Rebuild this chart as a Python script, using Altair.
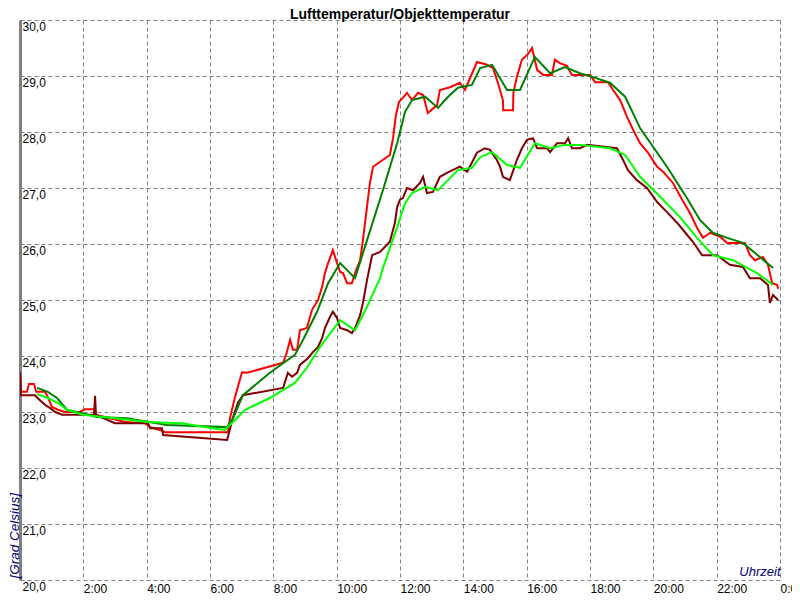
import altair as alt
import pandas as pd

# Time in hours since 0:00, temperature in degrees Celsius
luft_h = [0.00, 0.03, 0.22, 0.28, 0.44, 0.51, 0.79, 0.85, 1.01, 1.20, 1.42, 1.89, 2.05, 2.34, 2.40, 2.84,
          3.32, 3.95, 4.11, 4.42, 4.58, 6.57, 6.63, 6.79, 7.01, 7.17, 8.31, 8.43, 8.53, 8.62, 8.75, 8.84,
          9.06, 9.22, 9.41, 9.54, 9.63, 9.73, 9.88, 10.01, 10.11, 10.20, 10.33, 10.48, 10.58, 10.74, 10.83,
          11.05, 11.15, 11.68, 11.78, 11.87, 11.97, 12.09, 12.22, 12.38, 12.57, 12.73, 12.88, 13.17, 13.26,
          13.58, 13.89, 14.05, 14.21, 14.43, 14.75, 14.94, 15.09, 15.25, 15.26, 15.57, 15.58, 15.69, 15.85,
          16.04, 16.17, 16.33, 16.52, 16.80, 16.89, 17.05, 17.27, 17.43, 18.00, 18.16, 18.57, 18.73, 18.95,
          19.17, 19.36, 19.58, 19.83, 20.12, 20.31, 20.62, 20.91, 21.16, 21.38, 21.57, 21.79, 22.11, 22.33,
          22.89, 23.05, 23.21, 23.46, 23.62, 23.75, 23.91, 23.94]
luft_t = [23.70, 23.36, 23.36, 23.50, 23.50, 23.36, 23.36, 23.30, 23.09, 23.04, 23.00, 23.00, 23.05, 23.05,
          22.95, 22.89, 22.82, 22.80, 22.73, 22.68, 22.64, 22.64, 22.89, 23.27, 23.71, 23.70, 23.88, 24.07,
          24.29, 24.11, 24.11, 24.46, 24.50, 24.82, 25.00, 25.23, 25.48, 25.66, 25.89, 25.66, 25.50, 25.48,
          25.30, 25.30, 25.48, 25.71, 26.07, 27.09, 27.38, 27.59, 27.89, 28.30, 28.54, 28.61, 28.70, 28.57,
          28.70, 28.66, 28.34, 28.48, 28.75, 28.80, 28.88, 28.75, 28.96, 29.25, 29.20, 29.14, 28.88, 28.57,
          28.39, 28.39, 28.70, 28.98, 29.29, 29.39, 29.50, 29.11, 29.02, 29.02, 29.29, 29.23, 29.18, 29.02,
          29.02, 28.89, 28.89, 28.75, 28.57, 28.27, 28.04, 27.80, 27.63, 27.38, 27.29, 27.09, 26.79, 26.55,
          26.29, 26.11, 26.20, 26.13, 26.02, 26.02, 25.80, 25.71, 25.77, 25.63, 25.30, 25.27, 25.20]

objekt_h = [0.00, 0.03, 0.47, 0.63, 0.79, 0.95, 1.11, 1.33, 2.34, 2.37, 2.40, 3.00, 3.32, 4.04, 4.11, 4.48,
            4.52, 6.54, 6.73, 6.88, 7.04, 8.31, 8.46, 8.59, 8.75, 8.84, 9.09, 9.25, 9.41, 9.54, 9.63, 9.79,
            9.88, 10.01, 10.11, 10.33, 10.48, 10.58, 10.74, 10.83, 10.96, 11.12, 11.37, 11.68, 11.84, 11.91,
            12.00, 12.09, 12.22, 12.41, 12.63, 12.73, 12.85, 13.04, 13.26, 13.48, 13.89, 14.12, 14.27, 14.43,
            14.68, 14.84, 15.06, 15.16, 15.25, 15.47, 15.69, 15.85, 16.01, 16.20, 16.33, 16.64, 16.74, 16.96,
            17.21, 17.31, 17.43, 17.68, 17.91, 18.85, 19.01, 19.20, 19.48, 19.80, 20.12, 20.43, 20.75, 20.94,
            21.25, 21.54, 22.01, 22.42, 22.83, 23.05, 23.37, 23.62, 23.68, 23.78, 23.94]
objekt_t = [23.71, 23.30, 23.30, 23.21, 23.13, 23.07, 23.00, 22.95, 22.95, 23.29, 22.95, 22.80, 22.80, 22.80,
            22.71, 22.71, 22.59, 22.50, 22.91, 23.16, 23.30, 23.43, 23.70, 23.63, 23.70, 23.84, 23.96, 24.07,
            24.16, 24.32, 24.50, 24.70, 24.79, 24.68, 24.50, 24.46, 24.41, 24.50, 24.73, 24.95, 25.36, 25.80,
            25.86, 26.04, 26.38, 26.66, 26.79, 26.82, 27.00, 26.96, 27.09, 27.20, 26.91, 26.93, 27.20, 27.27,
            27.38, 27.29, 27.45, 27.63, 27.71, 27.68, 27.50, 27.38, 27.20, 27.14, 27.50, 27.71, 27.86, 27.89,
            27.71, 27.71, 27.64, 27.80, 27.80, 27.89, 27.71, 27.71, 27.77, 27.71, 27.54, 27.32, 27.14, 27.00,
            26.75, 26.57, 26.38, 26.25, 26.04, 25.80, 25.80, 25.63, 25.59, 25.39, 25.39, 25.27, 24.95, 25.09,
            25.00]

luft_mittel_h = [0.54, 0.88, 1.17, 1.48, 1.96, 2.43, 3.38, 4.64, 6.54, 6.73, 7.04, 7.89, 8.68, 8.94, 9.38,
                 9.73, 10.11, 10.58, 10.96, 11.46, 11.91, 12.16, 12.38, 12.79, 13.20, 13.52, 13.83, 14.27,
                 14.53, 14.91, 15.38, 15.79, 16.26, 16.74, 17.21, 17.68, 18.09, 18.63, 19.11, 19.58, 20.43,
                 21.06, 21.47, 21.88, 22.33, 22.83, 23.78]
luft_mittel_t = [23.43, 23.36, 23.25, 23.04, 22.98, 22.91, 22.89, 22.77, 22.73, 22.89, 23.30, 23.70, 24.02,
                 24.29, 24.79, 25.30, 25.66, 25.39, 26.07, 26.96, 27.80, 28.36, 28.57, 28.63, 28.43, 28.63,
                 28.79, 28.84, 29.14, 29.20, 28.75, 28.75, 29.34, 29.05, 29.16, 29.05, 28.98, 28.88, 28.63,
                 28.07, 27.38, 26.82, 26.43, 26.20, 26.11, 26.02, 25.57]

objekt_mittel_h = [0.54, 0.88, 1.20, 1.48, 1.99, 3.00, 4.04, 5.12, 6.06, 6.47, 6.85, 7.11, 7.89, 8.68, 9.06,
                   9.47, 10.11, 10.58, 10.96, 11.37, 11.46, 11.91, 12.16, 12.38, 12.79, 13.20, 13.83, 14.27,
                   14.53, 14.91, 15.38, 15.79, 16.26, 16.74, 17.21, 17.68, 18.63, 19.11, 19.58, 20.31, 20.84,
                   21.38, 21.88, 22.52, 23.27, 23.78]
objekt_mittel_t = [23.32, 23.25, 23.16, 23.04, 22.95, 22.89, 22.82, 22.80, 22.71, 22.68, 22.89, 23.04, 23.25,
                   23.52, 23.79, 24.16, 24.64, 24.46, 24.88, 25.39, 25.57, 26.30, 26.73, 26.91, 27.02, 26.96,
                   27.32, 27.36, 27.55, 27.64, 27.41, 27.36, 27.80, 27.71, 27.77, 27.77, 27.71, 27.59, 27.20,
                   26.79, 26.48, 26.11, 25.80, 25.71, 25.48, 25.27]

series_names = ["Luft", "Objekt", "Luft Mittel", "Objekt Mittel"]
series_colors = ["#ff0000", "#800000", "#008000", "#00ff00"]
x_ticks = list(range(0, 25, 2))
y_ticks = list(range(20, 31))
title_text = ["Lufttemperatur/Objekttemperatur"]

frames = []
for name, hs, ts in [(series_names[0], luft_h, luft_t),
                     (series_names[1], objekt_h, objekt_t),
                     (series_names[2], luft_mittel_h, luft_mittel_t),
                     (series_names[3], objekt_mittel_h, objekt_mittel_t)]:
    frames.append(pd.DataFrame({"h": hs, "t": ts, "serie": name, "idx": range(len(hs))}))
df = pd.concat(frames, ignore_index=True)

FONT = "Liberation Sans, Arial, sans-serif"

lines = alt.Chart(df).mark_line(strokeWidth=2, clip=True).encode(
    x=alt.X("h:Q", scale=alt.Scale(domain=[0, 24], nice=False, zero=False),
            axis=alt.Axis(values=x_ticks, title="Uhrzeit", grid=True, ticks=False, tickSize=0,
                          domain=False, labelAlign="left", labelBaseline="top", labelPadding=3,
                          labelFlush=False, labelOverlap=False, labelBound=False,
                          labelExpr="datum.value == 0 ? '' : (datum.value % 24) + ':00'",
                          labelFont=FONT, labelFontSize=12, labelColor="#000000",
                          titleFont=FONT, titleFontStyle="italic", titleFontWeight="normal",
                          titleFontSize=13, titleColor="#000080", titleAlign="right",
                          titleBaseline="alphabetic", titleX=760, titleY=-5)),
    y=alt.Y("t:Q", scale=alt.Scale(domain=[20, 30], nice=False, zero=False),
            axis=alt.Axis(values=y_ticks, title="[Grad Celsius]", grid=True, ticks=False, tickSize=0,
                          domain=True, domainColor="#808080", domainWidth=3,
                          labelAlign="left", labelBaseline="top", labelPadding=-2, labelOffset=1,
                          labelFlush=False, labelOverlap=False, labelBound=False,
                          labelExpr="replace(format(datum.value, '.1f'), '.', ',')",
                          labelFont=FONT, labelFontSize=12, labelColor="#000000",
                          titleFont=FONT, titleFontStyle="italic", titleFontWeight="normal",
                          titleFontSize=13.5, titleColor="#000080", titleAngle=-90, titleAlign="left",
                          titleBaseline="alphabetic", titleX=-2, titleY=558)),
    color=alt.Color("serie:N", scale=alt.Scale(domain=series_names, range=series_colors), legend=None),
    order=alt.Order("idx:Q"),
    detail="serie:N",
)

title = alt.Chart(pd.DataFrame({"titel": title_text})).mark_text(
    font=FONT, fontSize=14, fontWeight="bold", color="#000000",
    align="center", baseline="alphabetic", clip=False
).encode(text="titel:N", x=alt.value(380), y=alt.value(-1.5))

chart = alt.layer(lines, title).properties(
    width=760,
    height=560,
    autosize=alt.AutoSizeParams(type="none"),
    padding={"left": 12, "top": 12, "right": 12, "bottom": 14},
).configure_axis(
    gridColor="#808080", gridDash=[4, 3], gridWidth=1, gridOpacity=1
).configure_view(strokeWidth=0)

chart.save("out.html", embed_options={"renderer": "svg", "actions": False})
